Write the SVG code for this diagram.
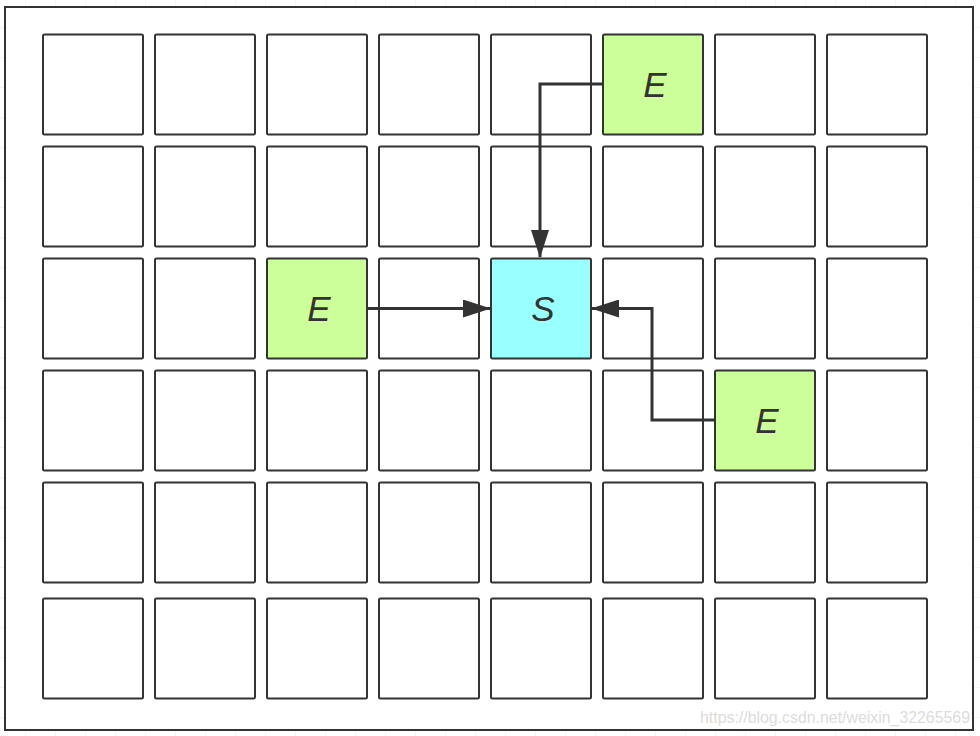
<svg xmlns="http://www.w3.org/2000/svg" width="980" height="736" viewBox="0 0 980 736">
<defs>
<style>
.cell{fill:#ffffff;stroke:#333333;stroke-width:2}
.e{fill:#ccff99}
.s{fill:#99ffff}
.lbl{font-family:"Liberation Sans",Arial,sans-serif;font-style:italic;font-size:35px;fill:#333333;text-anchor:middle}
.conn{fill:none;stroke:#333333;stroke-width:3}
.bg{stroke:#ececec;stroke-width:1}
</style>
<marker id="ah" viewBox="0 0 28 18" refX="27" refY="9" markerWidth="28" markerHeight="18" markerUnits="userSpaceOnUse" orient="auto">
<path d="M0,0 L28,9 L0,18 Z" fill="#333333"/>
</marker>
<pattern id="grid" width="30" height="30" patternUnits="userSpaceOnUse" x="-5" y="-3">
<path d="M0,0 H30 M0,0 V30" class="bg" fill="none"/>
</pattern>
</defs>
<rect x="0" y="0" width="980" height="736" fill="#ffffff"/>
<rect x="0" y="0" width="980" height="736" fill="url(#grid)"/>
<rect id="frame" x="5" y="7" width="968" height="723" fill="#ffffff" stroke="#333333" stroke-width="2"/>
<g id="cells">
<g id="r0c0"><rect class="cell" x="43" y="34.5" width="100" height="100" rx="1.5"/></g>
<g id="r0c1"><rect class="cell" x="155" y="34.5" width="100" height="100" rx="1.5"/></g>
<g id="r0c2"><rect class="cell" x="267" y="34.5" width="100" height="100" rx="1.5"/></g>
<g id="r0c3"><rect class="cell" x="379" y="34.5" width="100" height="100" rx="1.5"/></g>
<g id="r0c4"><rect class="cell" x="491" y="34.5" width="100" height="100" rx="1.5"/></g>
<g id="r0c5"><rect class="cell e" x="603" y="34.5" width="100" height="100" rx="1.5"/><text class="lbl" x="655" y="97">E</text></g>
<g id="r0c6"><rect class="cell" x="715" y="34.5" width="100" height="100" rx="1.5"/></g>
<g id="r0c7"><rect class="cell" x="827" y="34.5" width="100" height="100" rx="1.5"/></g>

<g id="r1c0"><rect class="cell" x="43" y="146.5" width="100" height="100" rx="1.5"/></g>
<g id="r1c1"><rect class="cell" x="155" y="146.5" width="100" height="100" rx="1.5"/></g>
<g id="r1c2"><rect class="cell" x="267" y="146.5" width="100" height="100" rx="1.5"/></g>
<g id="r1c3"><rect class="cell" x="379" y="146.5" width="100" height="100" rx="1.5"/></g>
<g id="r1c4"><rect class="cell" x="491" y="146.5" width="100" height="100" rx="1.5"/></g>
<g id="r1c5"><rect class="cell" x="603" y="146.5" width="100" height="100" rx="1.5"/></g>
<g id="r1c6"><rect class="cell" x="715" y="146.5" width="100" height="100" rx="1.5"/></g>
<g id="r1c7"><rect class="cell" x="827" y="146.5" width="100" height="100" rx="1.5"/></g>

<g id="r2c0"><rect class="cell" x="43" y="258.5" width="100" height="100" rx="1.5"/></g>
<g id="r2c1"><rect class="cell" x="155" y="258.5" width="100" height="100" rx="1.5"/></g>
<g id="r2c2"><rect class="cell e" x="267" y="258.5" width="100" height="100" rx="1.5"/><text class="lbl" x="319" y="321">E</text></g>
<g id="r2c3"><rect class="cell" x="379" y="258.5" width="100" height="100" rx="1.5"/></g>
<g id="r2c4"><rect class="cell s" x="491" y="258.5" width="100" height="100" rx="1.5"/><text class="lbl" x="543" y="321">S</text></g>
<g id="r2c5"><rect class="cell" x="603" y="258.5" width="100" height="100" rx="1.5"/></g>
<g id="r2c6"><rect class="cell" x="715" y="258.5" width="100" height="100" rx="1.5"/></g>
<g id="r2c7"><rect class="cell" x="827" y="258.5" width="100" height="100" rx="1.5"/></g>

<g id="r3c0"><rect class="cell" x="43" y="370.5" width="100" height="100" rx="1.5"/></g>
<g id="r3c1"><rect class="cell" x="155" y="370.5" width="100" height="100" rx="1.5"/></g>
<g id="r3c2"><rect class="cell" x="267" y="370.5" width="100" height="100" rx="1.5"/></g>
<g id="r3c3"><rect class="cell" x="379" y="370.5" width="100" height="100" rx="1.5"/></g>
<g id="r3c4"><rect class="cell" x="491" y="370.5" width="100" height="100" rx="1.5"/></g>
<g id="r3c5"><rect class="cell" x="603" y="370.5" width="100" height="100" rx="1.5"/></g>
<g id="r3c6"><rect class="cell e" x="715" y="370.5" width="100" height="100" rx="1.5"/><text class="lbl" x="767" y="433">E</text></g>
<g id="r3c7"><rect class="cell" x="827" y="370.5" width="100" height="100" rx="1.5"/></g>

<g id="r4c0"><rect class="cell" x="43" y="482.5" width="100" height="100" rx="1.5"/></g>
<g id="r4c1"><rect class="cell" x="155" y="482.5" width="100" height="100" rx="1.5"/></g>
<g id="r4c2"><rect class="cell" x="267" y="482.5" width="100" height="100" rx="1.5"/></g>
<g id="r4c3"><rect class="cell" x="379" y="482.5" width="100" height="100" rx="1.5"/></g>
<g id="r4c4"><rect class="cell" x="491" y="482.5" width="100" height="100" rx="1.5"/></g>
<g id="r4c5"><rect class="cell" x="603" y="482.5" width="100" height="100" rx="1.5"/></g>
<g id="r4c6"><rect class="cell" x="715" y="482.5" width="100" height="100" rx="1.5"/></g>
<g id="r4c7"><rect class="cell" x="827" y="482.5" width="100" height="100" rx="1.5"/></g>

<g id="r5c0"><rect class="cell" x="43" y="598.5" width="100" height="100" rx="1.5"/></g>
<g id="r5c1"><rect class="cell" x="155" y="598.5" width="100" height="100" rx="1.5"/></g>
<g id="r5c2"><rect class="cell" x="267" y="598.5" width="100" height="100" rx="1.5"/></g>
<g id="r5c3"><rect class="cell" x="379" y="598.5" width="100" height="100" rx="1.5"/></g>
<g id="r5c4"><rect class="cell" x="491" y="598.5" width="100" height="100" rx="1.5"/></g>
<g id="r5c5"><rect class="cell" x="603" y="598.5" width="100" height="100" rx="1.5"/></g>
<g id="r5c6"><rect class="cell" x="715" y="598.5" width="100" height="100" rx="1.5"/></g>
<g id="r5c7"><rect class="cell" x="827" y="598.5" width="100" height="100" rx="1.5"/></g>
</g>
<g id="connectors">
<path class="conn" d="M603,84 H540 V257" marker-end="url(#ah)"/>
<path class="conn" d="M367,308.5 H490" marker-end="url(#ah)"/>
<path class="conn" d="M715,420 H652 V308.5 H592" marker-end="url(#ah)"/>
</g>
<text x="700" y="723" font-family="Liberation Sans,Arial,sans-serif" font-size="16" fill="#dcdcdc" textLength="270" lengthAdjust="spacingAndGlyphs">https://blog.csdn.net/weixin_32265569</text>
</svg>
